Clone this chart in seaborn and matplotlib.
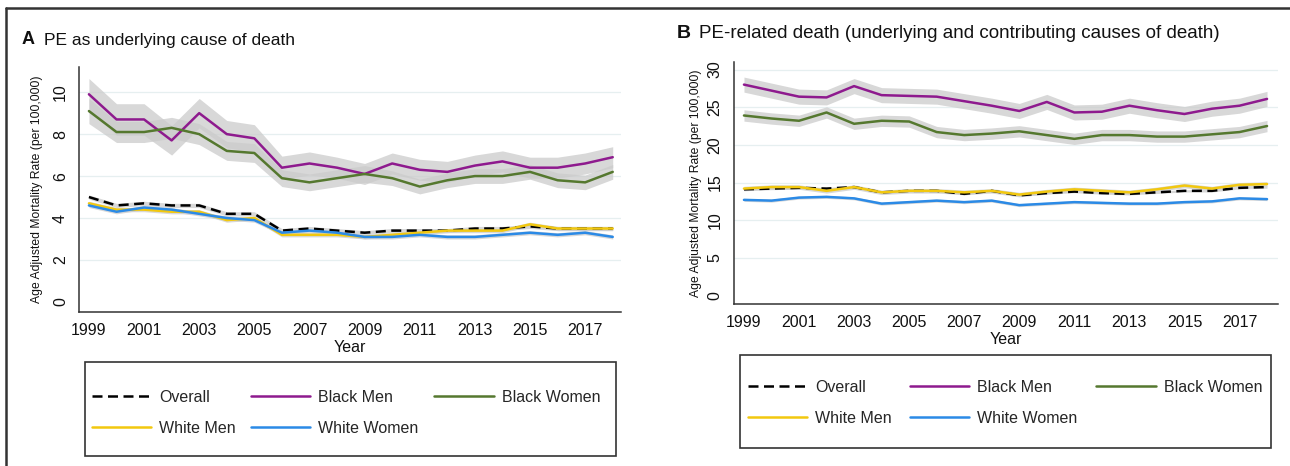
import numpy as np
import pandas as pd
import matplotlib
matplotlib.use("Agg")
import matplotlib.pyplot as plt
import seaborn as sns
from matplotlib.lines import Line2D
from matplotlib.patches import Rectangle

years = list(range(1999, 2019))
series_names = ["Overall", "Black Men", "Black Women", "White Men", "White Women"]

# Panel A: PE as underlying cause of death
a_overall = [5.0, 4.6, 4.7, 4.6, 4.6, 4.2, 4.2, 3.4, 3.5, 3.4, 3.3, 3.4, 3.4, 3.4, 3.5, 3.5, 3.6, 3.5, 3.5, 3.5]
a_black_men = [9.9, 8.7, 8.7, 7.7, 9.0, 8.0, 7.8, 6.4, 6.6, 6.4, 6.1, 6.6, 6.3, 6.2, 6.5, 6.7, 6.4, 6.4, 6.6, 6.9]
a_black_women = [9.1, 8.1, 8.1, 8.3, 8.0, 7.2, 7.1, 5.9, 5.7, 5.9, 6.1, 5.9, 5.5, 5.8, 6.0, 6.0, 6.2, 5.8, 5.7, 6.2]
a_white_men = [4.7, 4.4, 4.4, 4.3, 4.3, 3.9, 4.0, 3.2, 3.2, 3.2, 3.1, 3.2, 3.3, 3.4, 3.4, 3.4, 3.7, 3.5, 3.5, 3.5]
a_white_women = [4.6, 4.3, 4.5, 4.4, 4.2, 4.0, 3.9, 3.3, 3.4, 3.3, 3.1, 3.1, 3.2, 3.1, 3.1, 3.2, 3.3, 3.2, 3.3, 3.1]
# half-widths of 95% CI bands (panel A)
a_ci_overall = [0.10] * 20
a_ci_black_men = [0.75, 0.75, 0.75, 0.7, 0.7, 0.65, 0.65, 0.55, 0.55, 0.5, 0.5, 0.5, 0.5, 0.5, 0.5, 0.5, 0.5, 0.5, 0.5, 0.5]
a_ci_black_women = [0.6, 0.5, 0.5, 0.5, 0.5, 0.45, 0.45, 0.4, 0.4, 0.4, 0.4, 0.35, 0.35, 0.35, 0.35, 0.35, 0.35, 0.35, 0.35, 0.35]
a_ci_white_men = [0.10] * 20
a_ci_white_women = [0.10] * 20

# Panel B: PE-related death
b_overall = [14.1, 14.2, 14.3, 14.2, 14.4, 13.7, 13.9, 13.9, 13.5, 13.9, 13.3, 13.6, 13.8, 13.6, 13.5, 13.7, 13.9, 13.9, 14.3, 14.4]
b_black_men = [28.0, 27.2, 26.4, 26.3, 27.8, 26.6, 26.5, 26.4, 25.8, 25.2, 24.5, 25.7, 24.3, 24.4, 25.2, 24.6, 24.1, 24.8, 25.2, 26.1]
b_black_women = [23.9, 23.5, 23.2, 24.3, 22.8, 23.2, 23.1, 21.7, 21.3, 21.5, 21.8, 21.3, 20.8, 21.3, 21.3, 21.1, 21.1, 21.4, 21.7, 22.5]
b_white_men = [14.2, 14.4, 14.4, 13.9, 14.4, 13.7, 13.9, 13.9, 13.7, 13.9, 13.4, 13.8, 14.1, 13.9, 13.7, 14.1, 14.6, 14.2, 14.7, 14.8]
b_white_women = [12.7, 12.6, 13.0, 13.1, 12.9, 12.2, 12.4, 12.6, 12.4, 12.6, 12.0, 12.2, 12.4, 12.3, 12.2, 12.2, 12.4, 12.5, 12.9, 12.8]
b_ci_overall = [0.15] * 20
b_ci_black_men = [1.0] * 20
b_ci_black_women = [0.75] * 20
b_ci_white_men = [0.3] * 20
b_ci_white_women = [0.2] * 20

colors = {"Overall": "#000000", "Black Men": "#8e1a8e", "Black Women": "#55782f",
          "White Men": "#f2c80f", "White Women": "#2b8ae6"}
styles = {"Overall": (0, (4, 2.2)), "Black Men": "-", "Black Women": "-",
          "White Men": "-", "White Women": "-"}

sns.set_style("white")
plt.rcParams["font.family"] = ["Liberation Sans", "DejaVu Sans"]

W, H = 1290, 466
fig = plt.figure(figsize=(W / 100, H / 100), dpi=100)


def fx(px):
    return px / W


def fy(py):
    return 1 - py / H


def panel(rect, vals, cis, xlim, ylim, yticks, title_letter, title_text, title_pos,
          title_size, ylab_x, leg_box, leg_entries_box):
    ax = fig.add_axes(rect)
    df = pd.DataFrame({"Year": years})
    for name, v, c in zip(series_names, vals, cis):
        df[name] = v
        df[name + "_lo"] = np.array(v) - np.array(c)
        df[name + "_hi"] = np.array(v) + np.array(c)
    for name in series_names:
        ax.fill_between(df["Year"], df[name + "_lo"], df[name + "_hi"],
                        color="#cbcbcb", alpha=0.75, linewidth=0, zorder=1)
    for name in series_names:
        sns.lineplot(data=df, x="Year", y=name, ax=ax, color=colors[name],
                     linestyle=styles[name], linewidth=1.8, zorder=3, label=name,
                     legend=False)
    ax.set_xlim(*xlim)
    ax.set_ylim(*ylim)
    ax.set_xticks(list(range(1999, 2019, 2)))
    ax.set_yticks(yticks)
    ax.tick_params(axis="both", direction="out", length=5, width=1, color="#333333",
                   labelsize=11.5, labelcolor="#111111", pad=3)
    for lab in ax.get_yticklabels():
        lab.set_rotation(90)
        lab.set_va("center")
    ax.yaxis.grid(True, color="#e6eff0", linewidth=0.9)
    ax.get_ygridlines()[0].set_visible(False)
    ax.set_axisbelow(True)
    for s in ["top", "right"]:
        ax.spines[s].set_visible(False)
    for s in ["left", "bottom"]:
        ax.spines[s].set_color("#333333")
        ax.spines[s].set_linewidth(1.1)
    ax.set_xlabel("Year", fontsize=11.5, labelpad=1, color="#111111")
    ax.set_ylabel("")
    fig.text(fx(ylab_x), rect[1] + rect[3] / 2, "Age Adjusted Mortality Rate (per 100,000)",
             rotation=90, ha="center", va="center", fontsize=8.7, color="#111111")
    # title
    fig.text(fx(title_pos[0]), fy(title_pos[1]), title_letter, fontsize=title_size + 0.5,
             fontweight="bold", ha="left", va="center", color="#111111")
    fig.text(fx(title_pos[0] + 22), fy(title_pos[1]), title_text, fontsize=title_size,
             ha="left", va="center", color="#111111")
    # legend box
    bx0, by0, bx1, by1 = leg_box
    fig.add_artist(Rectangle((fx(bx0), fy(by1)), fx(bx1 - bx0), (by1 - by0) / H,
                             transform=fig.transFigure, fill=False,
                             edgecolor="#333333", linewidth=1.2))
    order = ["Overall", "White Men", "Black Men", "White Women", "Black Women"]
    handles = [Line2D([0], [0], color=colors[n], linestyle=styles[n], linewidth=1.8)
               for n in order]
    ex0, ey0, ex1, ey1 = leg_entries_box
    fig.legend(handles, order, loc="lower left", mode="expand", ncol=3,
               bbox_to_anchor=(fx(ex0), fy(ey1), fx(ex1 - ex0), (ey1 - ey0) / H),
               frameon=False, fontsize=11.5, handlelength=3.7, handletextpad=0.5,
               labelspacing=1.0, borderpad=0, borderaxespad=0)
    return ax


panel([fx(79), fy(312), fx(621 - 79), (312 - 67) / H],
      [a_overall, a_black_men, a_black_women, a_white_men, a_white_women],
      [a_ci_overall, a_ci_black_men, a_ci_black_women, a_ci_white_men, a_ci_white_women],
      (1998.64, 2018.3), (-0.48, 11.2), [0, 2, 4, 6, 8, 10],
      "A", "PE as underlying cause of death", (22, 40), 12.5, 37,
      (85, 362, 616, 456), (92, 386, 600, 436))

panel([fx(733.5), fy(304), fx(1277.5 - 733.5), (304 - 62) / H],
      [b_overall, b_black_men, b_black_women, b_white_men, b_white_women],
      [b_ci_overall, b_ci_black_men, b_ci_black_women, b_ci_white_men, b_ci_white_women],
      (1998.62, 2018.38), (-1.12, 31.0), [0, 5, 10, 15, 20, 25, 30],
      "B", "PE-related death (underlying and contributing causes of death)", (677, 33), 13.5, 696,
      (740, 355, 1271, 448), (748, 377, 1262, 426))

# outer frame lines
fig.add_artist(Line2D([fx(6), 1.0], [fy(8), fy(8)], transform=fig.transFigure,
                      color="#333333", linewidth=1.8))
fig.add_artist(Line2D([fx(6), fx(6)], [fy(8), 0.0], transform=fig.transFigure,
                      color="#333333", linewidth=1.8))

fig.savefig("out.png", dpi=100)
